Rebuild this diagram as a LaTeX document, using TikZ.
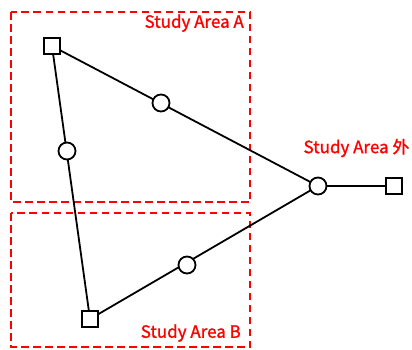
\documentclass[tikz,border=0pt]{standalone}
\usepackage{fontspec}
\setmainfont[FakeBold=1.2]{Noto Sans CJK SC}
\begin{document}
\begin{tikzpicture}[x=1pt,y=-1pt,
  area/.style={draw=red, line width=1.6pt, dash pattern=on 7.5pt off 4.5pt},
  sq/.style={draw, line width=1.8pt, fill=white, minimum size=16pt, inner sep=0pt},
  ci/.style={draw, circle, line width=1.8pt, fill=white, minimum size=17pt, inner sep=0pt},
  lab/.style={text=red, font=\fontsize{17}{19}\selectfont, inner sep=0pt},
  edge/.style={line width=1.8pt}]
\useasboundingbox (0,0) rectangle (412,349);
\draw[area] (11,12) rectangle (250,202);
\draw[area] (11,213) rectangle (250,347);
\node[lab, anchor=east] (la) at (244,23) {Study Area A};
\node[lab] (lo) at (356.5,148) {Study Area 外};
\node[lab, anchor=east] (lb) at (241,333) {Study Area B};
\coordinate (pA) at (52,46);
\coordinate (pB) at (90,319);
\coordinate (pC) at (318,186);
\coordinate (pD) at (394,186);
\draw[edge] (pA) -- (pC) -- (pB) -- cycle;
\draw[edge] (pC) -- (pD);
\node[sq] (a) at (pA) {};
\node[sq] (b) at (pB) {};
\node[sq] (d) at (pD) {};
\node[ci] (c) at (pC) {};
\node[ci] (m1) at (161,103) {};
\node[ci] (m2) at (67,151) {};
\node[ci] (m3) at (187,265) {};
\end{tikzpicture}
\end{document}
